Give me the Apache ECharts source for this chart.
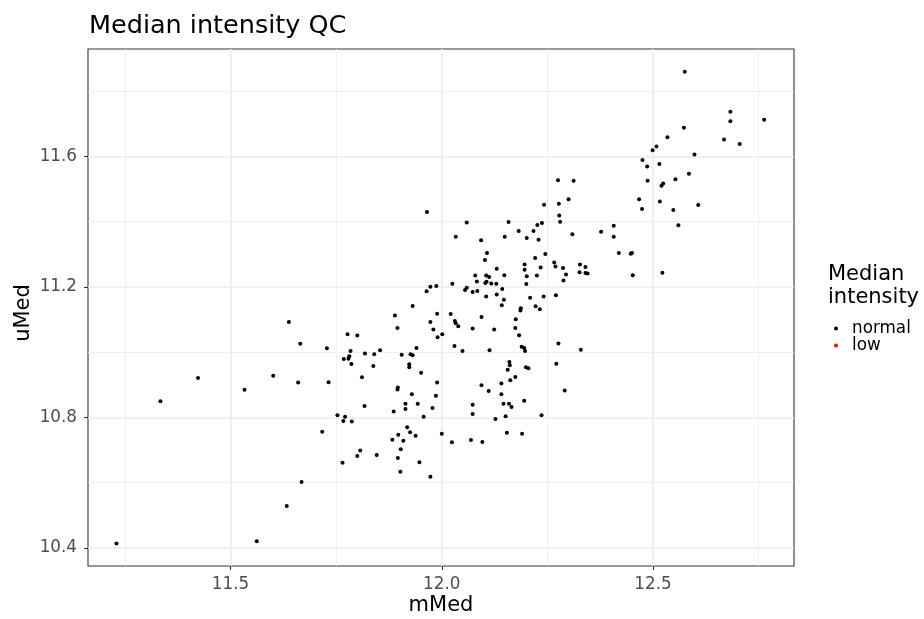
<!DOCTYPE html>
<html>
<head>
<meta charset="utf-8">
<script src="https://cdn.jsdelivr.net/npm/echarts@6/dist/echarts.min.js"></script>
<style>
html,body{margin:0;padding:0;background:#fff;}
#chart{width:924px;height:619px;}
</style>
</head>
<body>
<div id="chart"></div>
<script>
// ---- data ----
var mMed = [
12.575,12.683,12.683,12.763,12.573,12.534,12.668,12.705,12.508,12.499,
12.598,12.475,12.515,12.486,12.585,12.553,12.275,12.312,12.487,12.524,
12.520,12.300,12.467,12.516,12.277,12.242,12.607,12.474,12.548,11.965,
12.278,12.280,12.059,12.158,12.237,12.226,12.560,12.407,12.182,12.217,
12.377,12.309,12.033,12.149,12.407,12.201,12.229,12.093,12.107,12.419,
12.447,12.450,12.245,12.221,12.102,12.266,12.196,12.327,12.269,12.287,
12.340,12.130,12.196,12.234,12.340,12.345,12.326,12.522,12.079,12.105,
12.112,12.148,12.201,12.225,12.294,12.452,12.288,12.083,12.103,12.117,
12.129,12.106,12.025,11.987,11.973,12.200,12.143,11.964,12.059,12.055,
12.084,12.073,12.130,12.105,12.270,12.241,12.209,12.147,11.931,12.142,
12.222,12.232,12.187,12.186,11.889,11.989,12.021,12.094,12.175,11.638,
11.973,12.031,12.033,12.039,11.895,12.073,12.174,12.124,11.980,11.777,
11.800,12.001,11.990,12.183,11.665,12.276,12.030,12.189,11.728,11.854,
11.784,11.940,12.049,12.113,12.195,12.197,12.329,11.818,11.840,11.926,
11.905,11.931,11.781,11.768,11.779,12.160,11.786,12.271,12.161,11.923,
11.838,12.199,12.205,11.923,12.156,11.951,11.423,11.601,11.811,12.174,
12.162,11.660,11.732,11.989,12.141,11.896,11.895,12.094,11.533,12.291,
12.111,11.929,12.141,11.986,11.334,12.195,11.914,11.943,12.073,12.146,
12.159,11.817,12.165,11.914,11.978,11.886,12.073,11.753,11.771,11.957,
12.236,12.151,11.767,11.787,12.127,11.717,11.918,12.000,12.154,12.190,
11.897,11.925,11.938,11.883,11.909,12.024,12.069,12.096,11.903,11.807,
11.800,11.846,11.765,11.896,11.947,11.902,11.973,11.668,11.633,11.562,
11.230
];
var uMed = [
11.860,11.737,11.708,11.713,11.688,11.659,11.652,11.638,11.631,11.619,
11.606,11.589,11.577,11.569,11.547,11.530,11.527,11.526,11.526,11.517,
11.510,11.469,11.469,11.462,11.455,11.452,11.451,11.439,11.436,11.430,
11.419,11.400,11.398,11.399,11.396,11.390,11.389,11.388,11.372,11.372,
11.369,11.362,11.354,11.354,11.354,11.350,11.345,11.343,11.304,11.304,
11.302,11.304,11.301,11.289,11.283,11.275,11.269,11.269,11.263,11.258,
11.261,11.256,11.253,11.260,11.243,11.241,11.245,11.244,11.235,11.235,
11.231,11.236,11.233,11.235,11.238,11.236,11.220,11.217,11.212,11.211,
11.210,11.216,11.210,11.203,11.201,11.209,11.194,11.187,11.198,11.191,
11.188,11.185,11.177,11.171,11.175,11.171,11.167,11.161,11.142,11.144,
11.141,11.132,11.135,11.128,11.113,11.118,11.117,11.108,11.101,11.093,
11.093,11.096,11.089,11.080,11.074,11.073,11.074,11.070,11.070,11.055,
11.051,11.055,11.046,11.052,11.026,11.027,11.019,11.017,11.012,11.006,
11.004,11.013,11.004,11.006,11.013,11.004,11.008,10.996,10.994,10.994,
10.992,10.991,10.988,10.979,10.980,10.970,10.964,10.965,10.960,10.963,
10.958,10.954,10.951,10.954,10.946,10.937,10.921,10.928,10.923,10.924,
10.914,10.907,10.908,10.907,10.904,10.892,10.886,10.899,10.885,10.883,
10.881,10.871,10.871,10.867,10.850,10.851,10.842,10.842,10.839,10.842,
10.842,10.835,10.832,10.826,10.829,10.818,10.811,10.807,10.802,10.802,
10.807,10.804,10.789,10.788,10.795,10.756,10.770,10.750,10.753,10.750,
10.747,10.755,10.744,10.732,10.729,10.724,10.731,10.725,10.703,10.699,
10.682,10.685,10.661,10.676,10.663,10.634,10.618,10.602,10.529,10.421,
10.414
];
var legendNames = ['normal', 'low'];
var legendColors = ['#000000', '#ff0000'];
var xTicks = [11.5, 12.0, 12.5];
var xMinor = [11.25, 11.75, 12.25, 12.75];
var yTicks = [10.4, 10.8, 11.2, 11.6];
var yMinor = [10.6, 11.0, 11.4, 11.8];

var FONT = 'DejaVu Sans';
var points = mMed.map(function (x, i) { return [x, uMed[i]]; });

var gridLines = [];
xMinor.forEach(function (v) { gridLines.push({ xAxis: v, lineStyle: { color: '#ebebeb', width: 0.8, type: 'solid' } }); });
yMinor.forEach(function (v) { gridLines.push({ yAxis: v, lineStyle: { color: '#ebebeb', width: 0.8, type: 'solid' } }); });
xTicks.forEach(function (v) { gridLines.push({ xAxis: v, lineStyle: { color: '#ebebeb', width: 1.6, type: 'solid' } }); });
yTicks.forEach(function (v) { gridLines.push({ yAxis: v, lineStyle: { color: '#ebebeb', width: 1.6, type: 'solid' } }); });

var chart = echarts.init(document.getElementById('chart'), null, { renderer: 'canvas' });
chart.setOption({
  animation: false,
  backgroundColor: '#ffffff',
  title: {
    text: 'Median intensity QC',
    left: 84, top: 8,
    textStyle: { fontFamily: FONT, fontSize: 25.5, fontWeight: 'normal', color: '#000000' }
  },
  grid: {
    left: 88, top: 49, width: 706, height: 517,
    show: true, borderColor: '#333333', borderWidth: 1.1, backgroundColor: 'transparent'
  },
  xAxis: {
    type: 'value', min: 11.1626, max: 12.8336,
    splitLine: { show: false },
    axisLine: { show: false },
    axisTick: { show: true, length: 4, lineStyle: { color: '#333333', width: 1.1 }, customValues: xTicks },
    axisLabel: {
      customValues: xTicks, margin: 10,
      color: '#4d4d4d', fontFamily: FONT, fontSize: 16.8,
      formatter: function (v) { return v.toFixed(1); }
    }
  },
  yAxis: {
    type: 'value', min: 10.3448, max: 11.9295,
    splitLine: { show: false },
    axisLine: { show: false },
    axisTick: { show: true, length: 4, lineStyle: { color: '#333333', width: 1.1 }, customValues: yTicks },
    axisLabel: {
      customValues: yTicks, margin: 11,
      color: '#4d4d4d', fontFamily: FONT, fontSize: 16.8,
      formatter: function (v) { return v.toFixed(1); }
    }
  },
  legend: {
    orient: 'vertical', left: 829, top: 315,
    data: legendNames.map(function (n) { return { name: n, icon: 'circle' }; }),
    itemWidth: 4, itemHeight: 4, itemGap: 0,
    selectedMode: false,
    textStyle: { fontFamily: FONT, fontSize: 16.8, color: '#000000', lineHeight: 16.5, padding: [0, 0, 0, 9] }
  },
  graphic: [
    { type: 'text', left: 828, top: 263, style: { text: 'Median\nintensity', fontFamily: FONT, fontSize: 21, lineHeight: 23, fill: '#000000' } },
    { type: 'text', x: 441, y: 606, style: { text: 'mMed', fontFamily: FONT, fontSize: 21, fill: '#000000', align: 'center', verticalAlign: 'middle' } },
    { type: 'text', x: 24, y: 313, rotation: Math.PI / 2, style: { text: 'uMed', fontFamily: FONT, fontSize: 21, fill: '#000000', align: 'center', verticalAlign: 'middle' } }
  ],
  series: [
    {
      name: 'grid', type: 'scatter', data: [], z: 0, silent: true,
      markLine: { silent: true, z: 0, symbol: 'none', label: { show: false }, animation: false, data: gridLines }
    },
    {
      name: legendNames[0], type: 'scatter', z: 10,
      data: points, symbol: 'circle', symbolSize: 4,
      itemStyle: { color: legendColors[0], opacity: 1 }
    },
    {
      name: legendNames[1], type: 'scatter', z: 10,
      data: [], symbol: 'circle', symbolSize: 4,
      itemStyle: { color: legendColors[1], opacity: 1 }
    }
  ]
});
</script>
</body>
</html>
